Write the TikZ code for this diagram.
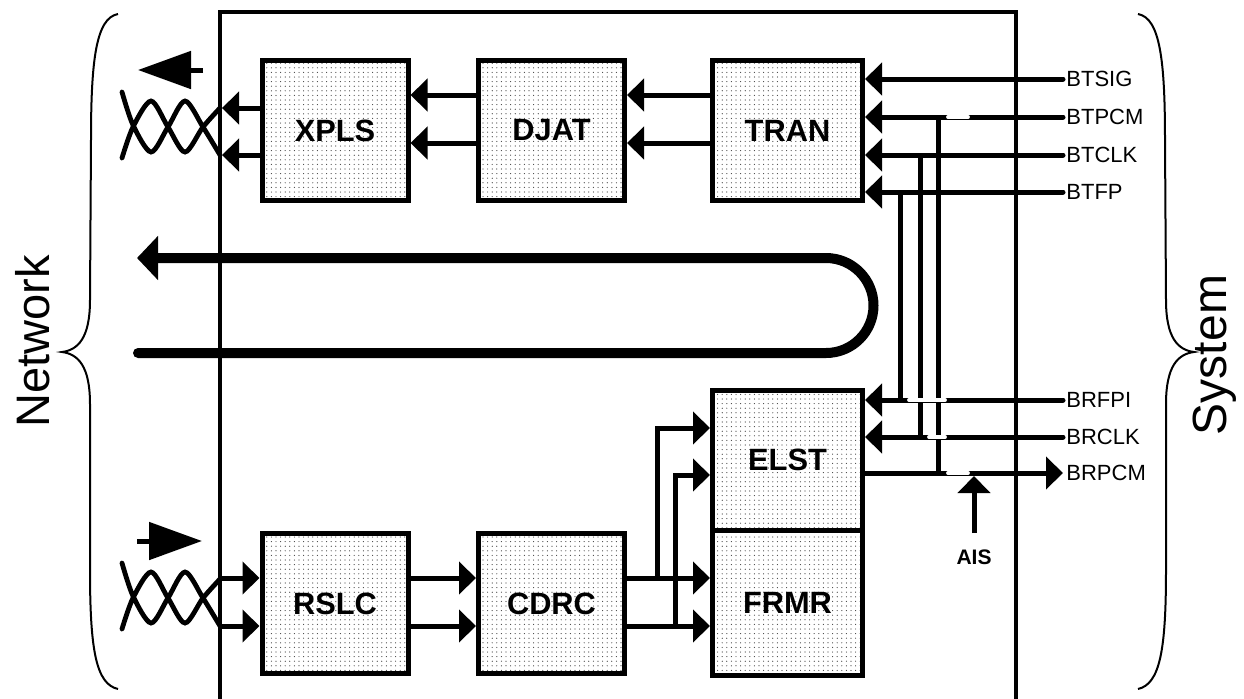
\documentclass[tikz,border=0pt]{standalone}
\usepackage{fontspec}
\setmainfont{Liberation Sans}
\usetikzlibrary{arrows.meta, positioning, patterns.meta}

\tikzset{
  blk/.style={draw, line width=2.5pt, pattern={Dots[distance=2.3pt, radius=0.3pt]}, pattern color=black!75,
    minimum width=73pt, minimum height=70pt, inner sep=0pt, font=\bfseries\fontsize{15.4}{18}\selectfont},
  wire/.style={line width=2.5pt},
  arr/.style={wire, -{Triangle[length=8.5pt, width=16pt]}},
  pin/.style={anchor=west, inner sep=1.5pt, font=\fontsize{11}{13}\selectfont},
  gap/.style={white, line width=1.9pt, line cap=round},
}

\begin{document}
\begin{tikzpicture}[x=0.5pt, y=-0.5pt]
\useasboundingbox (0,0) rectangle (1244,698);

% chip outline
\draw[line width=2pt] (220,705) -- (220,12) -- (1016,12) -- (1016,705);

% blocks
\node[blk] (xpls) at (335,130.5) {XPLS};
\node[blk] (djat) at (551.5,130.5) {DJAT};
\node[blk, minimum width=75pt] (tran) at (787.5,130.5) {TRAN};
\node[blk, minimum width=75pt] (elst) at (787.5,460) {ELST};
\node[blk, minimum width=75pt, minimum height=72.5pt, below=-2.5pt of elst] (frmr) {FRMR};
\node[blk] (rslc) at (335,603.5) {RSLC};
\node[blk] (cdrc) at (551.5,603.5) {CDRC};

% transmit path
\foreach \yy in {95,143} {
  \draw[arr] (tran.west |- 0,\yy) -- (djat.east |- 0,\yy);
  \draw[arr] (djat.west |- 0,\yy) -- (xpls.east |- 0,\yy);
}
\foreach \yy in {108,155}
  \draw[arr] (xpls.west |- 0,\yy) -- (222,\yy);

% receive path
\foreach \yy in {578,626} {
  \draw[arr] (221,\yy) -- (rslc.west |- 0,\yy);
  \draw[arr] (rslc.east |- 0,\yy) -- (cdrc.west |- 0,\yy);
  \draw[arr] (cdrc.east |- 0,\yy) -- (frmr.west |- 0,\yy);
}
\draw[arr] (657,578) -- (657,428) -- (elst.west |- 0,428);
\draw[arr] (675,626) -- (675,475) -- (elst.west |- 0,475);

% system side pins
\foreach \name/\yy in {BTSIG/79, BTPCM/117, BTCLK/155, BTFP/192} {
  \node[pin] (\name) at (1063,\yy) {\name};
  \draw[arr, line cap=round] (\name.west) -- (\name.west -| tran.east);
}
\foreach \name/\yy in {BRFPI/400, BRCLK/437} {
  \node[pin] (\name) at (1063,\yy) {\name};
  \draw[arr, line cap=round] (\name.west) -- (\name.west -| elst.east);
}
\node[pin] (BRPCM) at (1063,473) {BRPCM};
\draw[arr] (BRPCM.west -| elst.east) -- (BRPCM.west);

% loopbacks
\draw[wire] (BTPCM.west -| 938,0) -- (BRPCM.west -| 938,0);
\draw[wire] (BTCLK.west -| 920,0) -- (BRCLK.west -| 920,0);
\draw[wire] (BTFP.west -| 900,0) -- (BRFPI.west -| 900,0);

% switch gaps
\draw[gap] (948,117) -- (968,117);
\draw[gap] (948,473) -- (968,473);
\draw[gap] (909,400) -- (945,400);
\draw[gap] (929,437) -- (945,437);

% AIS
\node[font=\bfseries\fontsize{10.5}{12}\selectfont] (ais) at (974,557) {AIS};
\draw[arr] (ais.north |- 0,533) -- (ais.north |- 0,476);

% line loopback
\draw[line width=5pt, line cap=round, -{Triangle[length=10.5pt, width=21.5pt]}]
  (138,353) -- (826,353) arc[start angle=90, end angle=-90, radius=47.5] -- (137,258);

% twisted pairs
\foreach \dy in {0,471}
  \draw[line width=2.4pt, line cap=round, shift={(0,\dy)}]
    plot[smooth, tension=0.5] coordinates {(122,92) (133,125) (151,152) (168,127) (185,101) (203,127) (220,155)}
    plot[smooth, tension=0.5] coordinates {(122,158) (133,127) (151,101) (168,127) (185,152) (203,127) (220,108)};

% direction arrows
\draw[wire, -{Triangle[length=26.5pt, width=18.5pt]}] (203,70) -- (138,70);
\draw[wire, -{Triangle[length=26.5pt, width=18.5pt]}] (137,541) -- (202,541);

% braces
\draw[line width=1pt] (118,14) .. controls (96,18) and (91,60) .. (91,140) -- (90,300)
  .. controls (90,338) and (78,350) .. (62,352) .. controls (78,354) and (90,366) .. (90,404)
  -- (90,570) .. controls (90,650) and (96,684) .. (118,689);
\draw[line width=1pt] (1138,14) .. controls (1160,18) and (1165,60) .. (1165,140) -- (1166,300)
  .. controls (1166,338) and (1178,350) .. (1194,352) .. controls (1178,354) and (1166,366) .. (1166,404)
  -- (1166,570) .. controls (1166,650) and (1160,684) .. (1138,689);

\node[rotate=90, font=\fontsize{23.5}{28}\selectfont] (net) at (33,341) {Network};
\node[rotate=90, font=\fontsize{24}{28}\selectfont] (sys) at (1215,355) {System};
\end{tikzpicture}
\end{document}
